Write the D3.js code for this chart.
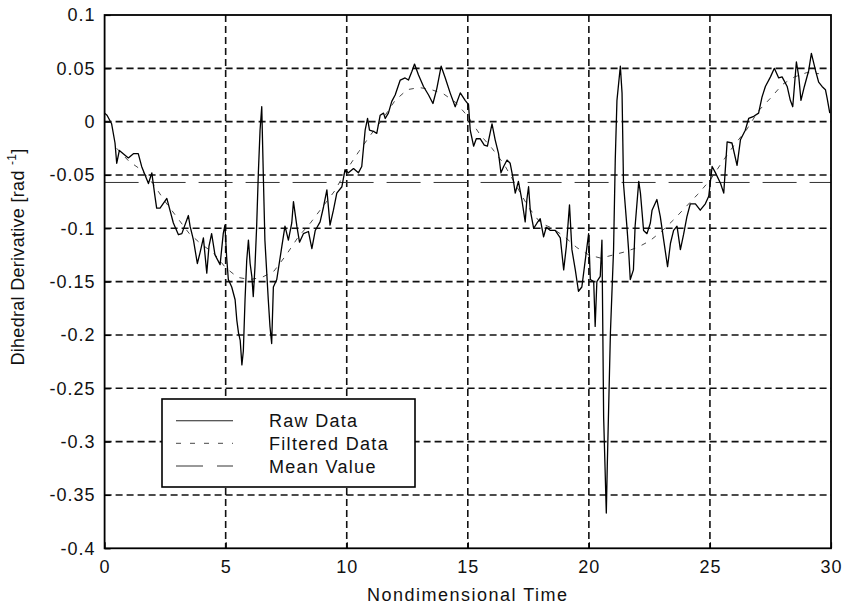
<!DOCTYPE html>
<html>
<head>
<meta charset="utf-8">
<script src="https://cdn.jsdelivr.net/npm/d3@7"></script>
<style>
  html, body { margin: 0; padding: 0; background: #fff; }
  svg { display: block; }
  text { font-family: "Liberation Sans", Arial, Helvetica, sans-serif; fill: #111; }
</style>
</head>
<body>
<svg id="chart" width="845" height="609"></svg>
<script>
// ---------- data ----------
const xTicks = [0, 5, 10, 15, 20, 25, 30];
const yTicks = [0.1, 0.05, 0, -0.05, -0.1, -0.15, -0.2, -0.25, -0.3, -0.35, -0.4];
const yTickLabels = ["0.1", "0.05", "0", "-0.05", "-0.1", "-0.15", "-0.2", "-0.25", "-0.3", "-0.35", "-0.4"];

const rawTime = [0.0,0.1,0.29,0.43,0.5,0.61,0.77,0.98,1.19,1.39,1.53,1.67,1.81,1.95,2.08,2.15,2.29,2.57,2.84,3.05,3.19,3.46,3.53,3.67,3.83,3.94,4.08,4.22,4.31,4.42,4.56,4.70,4.77,4.90,4.97,5.04,5.11,5.25,5.39,5.46,5.53,5.60,5.67,5.73,5.80,5.87,5.94,6.01,6.08,6.14,6.21,6.28,6.35,6.42,6.49,6.56,6.62,6.76,6.83,6.90,6.97,7.11,7.32,7.45,7.59,7.73,7.80,7.94,8.05,8.21,8.42,8.56,8.70,8.90,9.04,9.18,9.31,9.45,9.59,9.80,9.93,10.07,10.28,10.48,10.62,10.76,10.86,10.94,11.10,11.24,11.38,11.52,11.59,11.72,11.86,12.00,12.21,12.41,12.55,12.69,12.80,12.96,13.17,13.38,13.56,13.72,13.90,14.07,14.27,14.48,14.69,14.89,15.03,15.10,15.24,15.35,15.51,15.68,15.81,16.00,16.13,16.27,16.37,16.48,16.62,16.75,16.86,16.96,17.09,17.23,17.37,17.44,17.51,17.58,17.72,17.86,17.99,18.13,18.24,18.41,18.61,18.82,18.96,19.07,19.20,19.30,19.44,19.57,19.71,19.85,19.99,20.06,20.20,20.26,20.33,20.47,20.54,20.61,20.72,20.76,20.89,21.02,21.09,21.16,21.30,21.37,21.43,21.57,21.64,21.71,21.84,21.91,22.06,22.13,22.26,22.40,22.54,22.61,22.81,22.95,23.09,23.25,23.37,23.50,23.64,23.78,23.91,24.05,24.19,24.40,24.60,24.81,24.95,25.09,25.23,25.44,25.57,25.71,25.91,26.12,26.26,26.46,26.60,26.81,27.01,27.15,27.29,27.50,27.66,27.84,27.98,28.19,28.32,28.42,28.57,28.67,28.76,28.90,29.08,29.19,29.36,29.49,29.63,29.77,29.84,29.95];
const rawValue = [0.008,0.006,-0.002,-0.020,-0.039,-0.027,-0.030,-0.034,-0.030,-0.030,-0.042,-0.050,-0.058,-0.048,-0.070,-0.081,-0.081,-0.072,-0.095,-0.106,-0.105,-0.088,-0.098,-0.111,-0.133,-0.123,-0.109,-0.142,-0.117,-0.105,-0.125,-0.131,-0.134,-0.105,-0.097,-0.127,-0.148,-0.155,-0.167,-0.186,-0.198,-0.205,-0.228,-0.215,-0.167,-0.130,-0.111,-0.133,-0.145,-0.164,-0.136,-0.098,-0.048,-0.008,0.014,-0.055,-0.111,-0.167,-0.192,-0.208,-0.155,-0.148,-0.117,-0.098,-0.111,-0.095,-0.075,-0.098,-0.113,-0.105,-0.103,-0.119,-0.102,-0.094,-0.080,-0.064,-0.097,-0.083,-0.067,-0.061,-0.045,-0.048,-0.044,-0.048,-0.042,-0.008,0.003,-0.008,-0.009,-0.011,0.006,0.008,0.003,0.008,0.019,0.025,0.039,0.041,0.039,0.047,0.054,0.044,0.033,0.025,0.017,0.031,0.052,0.041,0.027,0.014,0.027,0.020,0.016,-0.008,-0.023,-0.016,-0.016,-0.022,-0.023,-0.002,-0.017,-0.030,-0.048,-0.042,-0.036,-0.039,-0.052,-0.067,-0.056,-0.073,-0.094,-0.073,-0.061,-0.083,-0.100,-0.095,-0.091,-0.108,-0.099,-0.102,-0.102,-0.109,-0.139,-0.117,-0.078,-0.120,-0.139,-0.159,-0.155,-0.130,-0.105,-0.148,-0.150,-0.192,-0.150,-0.145,-0.111,-0.277,-0.367,-0.323,-0.198,-0.120,-0.036,0.020,0.052,0.027,-0.058,-0.098,-0.120,-0.148,-0.139,-0.098,-0.056,-0.067,-0.102,-0.105,-0.095,-0.083,-0.073,-0.089,-0.111,-0.136,-0.114,-0.102,-0.098,-0.120,-0.106,-0.089,-0.077,-0.077,-0.083,-0.077,-0.070,-0.042,-0.048,-0.058,-0.067,-0.019,-0.020,-0.041,-0.017,-0.008,0.003,0.005,0.008,0.023,0.033,0.042,0.050,0.041,0.042,0.033,0.020,0.014,0.056,0.042,0.020,0.033,0.048,0.064,0.048,0.037,0.033,0.030,0.022,0.008];

const filteredTime = [0.5,1.0,1.5,2.0,2.5,3.0,3.5,4.0,4.5,5.0,5.5,6.0,6.5,7.0,7.5,8.0,8.5,9.0,9.5,10.0,10.5,11.0,11.5,12.0,12.5,13.0,13.5,14.0,14.5,15.0,15.5,16.0,16.5,17.0,17.5,18.0,18.5,19.0,19.5,20.0,20.5,21.0,21.5,22.0,22.5,23.0,23.5,24.0,24.5,25.0,25.5,26.0,26.5,27.0,27.5,28.0,28.5,29.0,29.5];
const filteredValue = [-0.025,-0.037,-0.045,-0.058,-0.075,-0.090,-0.105,-0.115,-0.123,-0.137,-0.146,-0.148,-0.146,-0.140,-0.125,-0.108,-0.095,-0.080,-0.065,-0.045,-0.028,-0.012,0.003,0.020,0.030,0.032,0.030,0.026,0.018,0.005,-0.012,-0.025,-0.040,-0.060,-0.080,-0.095,-0.100,-0.108,-0.118,-0.125,-0.128,-0.125,-0.122,-0.118,-0.112,-0.103,-0.092,-0.080,-0.068,-0.055,-0.038,-0.022,-0.008,0.010,0.022,0.035,0.042,0.046,0.045];

const meanValue = -0.057;

const legendLabels = ["Raw Data", "Filtered Data", "Mean Value"];
const xTitle = "Nondimensional Time";

// ---------- layout ----------
const svg = d3.select("#chart");
const x = d3.scaleLinear().domain([0, 30]).range([104.6, 831]);
const y = d3.scaleLinear().domain([-0.4, 0.1]).range([548.3, 15]);

const gridDash = "7,4";

// grid
const grid = svg.append("g");
grid.selectAll("line.vg").data(xTicks.filter(d => d > 0 && d < 30)).enter().append("line")
  .attr("x1", d => x(d)).attr("x2", d => x(d))
  .attr("y1", y(0.1)).attr("y2", y(-0.4))
  .attr("stroke", "#111").attr("stroke-width", 1.6).attr("stroke-dasharray", gridDash);
grid.selectAll("line.hg").data(yTicks.filter(d => d < 0.099 && d > -0.399)).enter().append("line")
  .attr("x1", x(0)).attr("x2", x(30))
  .attr("y1", d => y(d)).attr("y2", d => y(d))
  .attr("stroke", "#111").attr("stroke-width", 1.6).attr("stroke-dasharray", gridDash);

// mean line
svg.append("line")
  .attr("x1", x(0)).attr("x2", x(30))
  .attr("y1", y(meanValue)).attr("y2", y(meanValue))
  .attr("stroke", "#333").attr("stroke-width", 1).attr("stroke-dasharray", "34,13");

// filtered
const filtered = filteredTime.map((t, i) => [t, filteredValue[i]]);
svg.append("path")
  .attr("d", d3.line().x(d => x(d[0])).y(d => y(d[1]))(filtered))
  .attr("fill", "none").attr("stroke", "#333").attr("stroke-width", 0.9)
  .attr("stroke-dasharray", "5,7");

// raw
const raw = rawTime.map((t, i) => [t, rawValue[i]]);
svg.append("path")
  .attr("d", d3.line().x(d => x(d[0])).y(d => y(d[1]))(raw))
  .attr("fill", "none").attr("stroke", "#000").attr("stroke-width", 1.3)
  .attr("stroke-linejoin", "round");

// axes via d3 axis (ticks inside, labels outside)
const xAxis = d3.axisBottom(x).tickValues(xTicks).tickSize(-6).tickPadding(14).tickFormat(d3.format("d"));
const gx = svg.append("g").attr("transform", `translate(0,${y(-0.4)})`).call(xAxis);
gx.select(".domain").remove();
gx.selectAll(".tick line").attr("stroke", "#000").attr("stroke-width", 1.2);
gx.selectAll(".tick text").attr("font-size", 18).attr("letter-spacing", 1).attr("fill", "#111")
  .attr("font-family", "Liberation Sans, Arial, sans-serif").attr("dy", "0.6em");

const yAxis = d3.axisLeft(y).tickValues(yTicks).tickSize(-6).tickPadding(9)
  .tickFormat((d, i) => yTickLabels[i]);
const gy = svg.append("g").attr("transform", `translate(${x(0)},0)`).call(yAxis);
gy.select(".domain").remove();
gy.selectAll(".tick line").attr("stroke", "#000").attr("stroke-width", 1.2);
gy.selectAll(".tick text").attr("font-size", 18).attr("letter-spacing", 1).attr("fill", "#111")
  .attr("font-family", "Liberation Sans, Arial, sans-serif");

// box
svg.append("rect")
  .attr("x", x(0)).attr("y", y(0.1))
  .attr("width", x(30) - x(0)).attr("height", y(-0.4) - y(0.1))
  .attr("fill", "none").attr("stroke", "#000").attr("stroke-width", 1.8);

// axis titles
svg.append("text")
  .attr("x", (x(0) + x(30)) / 2 - 0).attr("y", 600.5)
  .attr("text-anchor", "middle").attr("font-size", 18).attr("letter-spacing", 1.5)
  .text(xTitle);

const yt = svg.append("text")
  .attr("transform", "translate(24,257) rotate(-90)")
  .attr("text-anchor", "middle").attr("font-size", 18).attr("letter-spacing", 0.3);
yt.append("tspan").text("Dihedral Derivative [rad ");
yt.append("tspan").attr("font-size", 12).attr("dy", -8).text("-1");
yt.append("tspan").attr("dy", 8).text("]");

// legend
const lg = svg.append("g");
lg.append("rect").attr("x", 162).attr("y", 399).attr("width", 253).attr("height", 88)
  .attr("fill", "#fff").attr("stroke", "#000").attr("stroke-width", 1.6);
const legendStyles = [
  { dash: null, w: 1.1, c: "#222" },
  { dash: "5,9", w: 0.9, c: "#333" },
  { dash: "27,14", w: 1, c: "#333" }
];
const rowY = [420.7, 443.3, 466];
legendLabels.forEach((lab, i) => {
  const l = lg.append("line").attr("x1", 176).attr("x2", 233)
    .attr("y1", rowY[i]).attr("y2", rowY[i])
    .attr("stroke", legendStyles[i].c).attr("stroke-width", legendStyles[i].w);
  if (legendStyles[i].dash) l.attr("stroke-dasharray", legendStyles[i].dash);
  lg.append("text").attr("x", 269).attr("y", rowY[i] + 6.5)
    .attr("font-size", 18).attr("letter-spacing", 1.3).text(lab);
});
</script>
</body>
</html>
